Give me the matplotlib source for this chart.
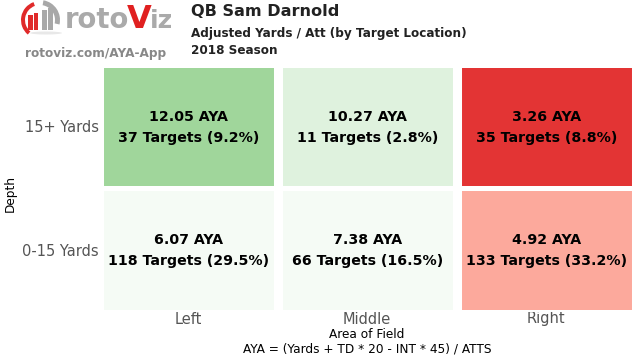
import numpy as np
import matplotlib

matplotlib.use("Agg")
import matplotlib.pyplot as plt
from matplotlib.colors import BoundaryNorm, ListedColormap
from matplotlib.patches import Ellipse, Wedge

plt.rcParams["font.family"] = ["DejaVu Sans"]

# rows are top to bottom, columns left to right
areas = ["Left", "Middle", "Right"]
depths = ["15+ Yards", "0-15 Yards"]
aya = [[12.05, 10.27, 3.26], [6.07, 7.38, 4.92]]
targets = [[37, 11, 35], [118, 66, 133]]
shares = [[9.2, 2.8, 8.8], [29.5, 16.5, 33.2]]

logo_bars = [15, 17, 20, 22]

W, H = 637, 360

fig = plt.figure(figsize=(W / 100, H / 100), dpi=100)


def box(x0, y0, x1, y1):
    return [x0 / W, 1 - y1 / H, (x1 - x0) / W, (y1 - y0) / H]


cmap = ListedColormap(["#e33434", "#fca99c", "#f5fbf5", "#dff2de", "#a0d69b"])
norm = BoundaryNorm([0, 4, 6, 9, 11, 20], cmap.N)

# axes run half a gap past the cells, so the white lines make every gap
ax = fig.add_axes(box(98.5, 64.5, 635.5, 311.5))
ax.pcolormesh(np.array(aya), cmap=cmap, norm=norm)
ax.set_xlim(0, 3)
ax.set_ylim(2, 0)
for i in range(4):
    ax.axvline(i, color="white", lw=6.5)
for i in range(3):
    ax.axhline(i, color="white", lw=3.6)
for s in ax.spines.values():
    s.set_visible(False)
ax.set_xticks(np.arange(3) + 0.5, areas)
ax.set_yticks(np.arange(2) + 0.5, depths)
ax.tick_params(length=0, labelsize=10.5, labelcolor="#555555")
ax.tick_params(axis="x", pad=0)
ax.tick_params(axis="y", pad=0)

for r in range(2):
    for c in range(3):
        ax.text(c + 0.503, r + 0.424, "%.2f AYA" % aya[r][c], ha="center", va="center",
                fontsize=10.2, fontweight="bold", color="black")
        ax.text(c + 0.503, r + 0.594, "%d Targets (%.1f%%)" % (targets[r][c], shares[r][c]),
                ha="center", va="center", fontsize=10.2, fontweight="bold", color="black")

fig.text(10 / W, 1 - 193 / H, "Depth", rotation=90, ha="center", va="center", fontsize=8.7)
fig.text(367 / W, 1 - 335 / H, "Area of Field", ha="center", va="center", fontsize=8.7)
fig.text(367 / W, 1 - 349 / H, "AYA = (Yards + TD * 20 - INT * 45) / ATTS", ha="center",
         va="center", fontsize=8.7)

fig.text(191 / W, 1 - 12 / H, "QB Sam Darnold", ha="left", va="center", fontsize=11.6,
         fontweight="bold", color="#222222")
fig.text(191 / W, 1 - 33 / H, "Adjusted Yards / Att (by Target Location)", ha="left",
         va="center", fontsize=8.65, fontweight="bold", color="#222222")
fig.text(191 / W, 1 - 51 / H, "2018 Season", ha="left", va="center", fontsize=8.65,
         fontweight="bold", color="#222222")
fig.text(25 / W, 1 - 54 / H, "rotoviz.com/AYA-App", ha="left", va="center", fontsize=8.7,
         fontweight="bold", color="#888888")

# logo, in pixel coordinates; y points down here so wedge angles run clockwise
logo = fig.add_axes([0, 0, 1, 1], zorder=5)
logo.set_xlim(0, W)
logo.set_ylim(H, 0)
logo.axis("off")
logo.add_patch(Ellipse((46, 33), 32, 3, color="#e8e8e8", lw=0))
logo.add_patch(Wedge((40, 20), 19, 130, 250, width=4, color="#e02a2a", lw=0))
logo.add_patch(Wedge((40, 20), 20, 280, 13, width=5, color="#a8a8a8", lw=0))
logo.bar([30.5, 36, 44.5, 50.5], [-h for h in logo_bars], width=4.5, bottom=30,
         color=["#e02a2a", "#e02a2a", "#a8a8a8", "#a8a8a8"])
logo.text(65, 28, "roto", fontsize=19.8, fontweight="bold", color="#aaaaaa", ha="left", va="baseline")
logo.text(127, 28, "V", fontsize=23, fontweight="bold", color="#e02020", ha="left", va="baseline")
logo.text(150, 28, "iz", fontsize=18, fontweight="bold", color="#aaaaaa", ha="left", va="baseline")

plt.savefig("out.png", dpi=100)
